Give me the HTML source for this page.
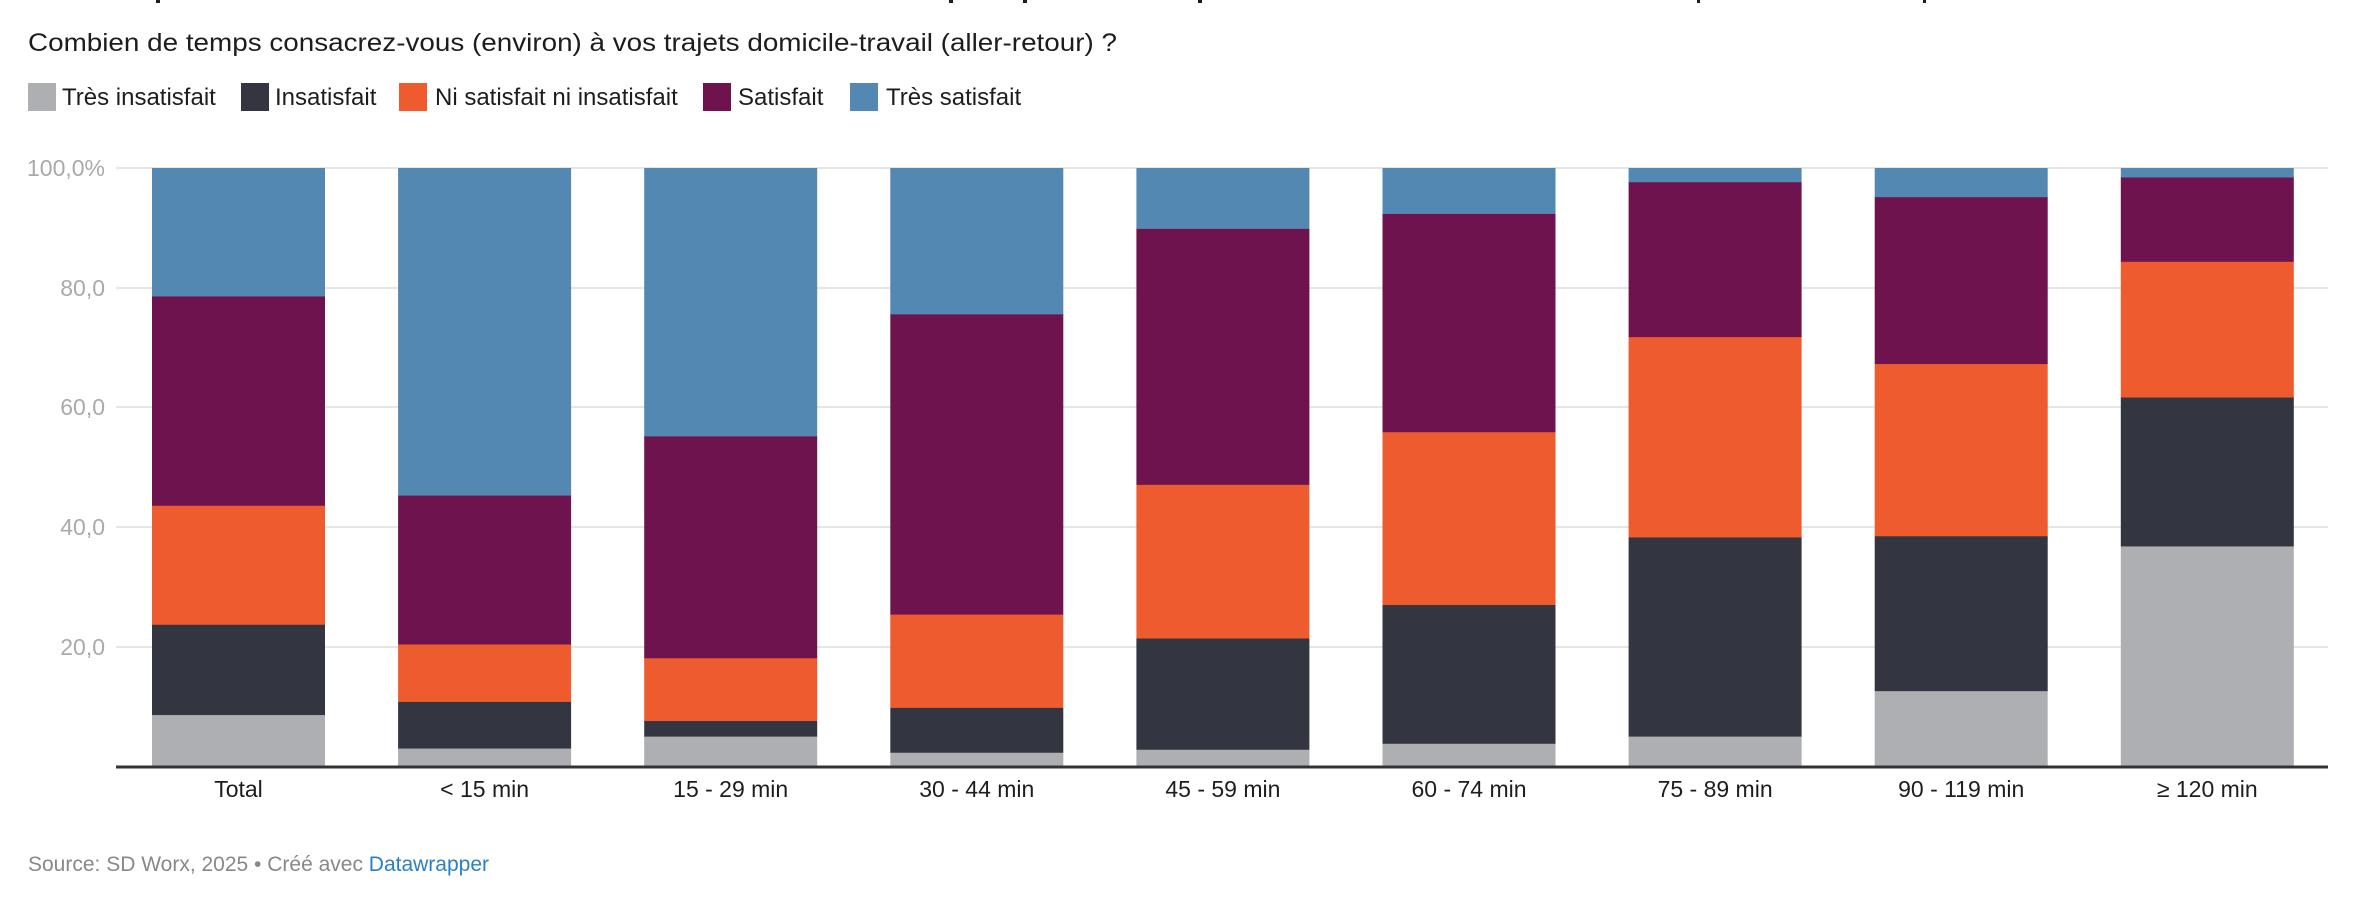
<!DOCTYPE html>
<html><head><meta charset="utf-8"><style>
body{margin:0;background:#fff;}
svg{display:block;font-family:"Liberation Sans",sans-serif;}
</style></head><body>
<svg width="2366" height="924" xmlns="http://www.w3.org/2000/svg">
<rect width="2366" height="924" fill="#fff"/>
<g fill="#1d1d1d">
<rect x="156" y="0" width="4" height="3"/><rect x="949" y="0" width="4" height="3"/><rect x="1023" y="0" width="4" height="3"/><rect x="1198" y="0" width="4" height="3"/><rect x="1697" y="0" width="3" height="3"/><rect x="1923" y="0" width="3" height="3"/>
</g>
<text x="28" y="51" font-size="25" fill="#1d1d1d" textLength="1089" lengthAdjust="spacingAndGlyphs">Combien de temps consacrez-vous (environ) à vos trajets domicile-travail (aller-retour) ?</text>
<g font-size="24" fill="#1d1d1d">
<rect x="28" y="83" width="28" height="28" fill="#aeafb2"/><text x="62" y="105">Très insatisfait</text>
<rect x="241" y="83" width="28" height="28" fill="#333640"/><text x="275" y="105">Insatisfait</text>
<rect x="399" y="83" width="28" height="28" fill="#ee5b2f"/><text x="435" y="105">Ni satisfait ni insatisfait</text>
<rect x="703" y="83" width="28" height="28" fill="#6e134d"/><text x="738" y="105">Satisfait</text>
<rect x="850" y="83" width="28" height="28" fill="#5388b2"/><text x="886" y="105">Très satisfait</text>
</g>
<g stroke="#e6e6e6" stroke-width="2">
<line x1="116" x2="2328" y1="168" y2="168"/><line x1="116" x2="2328" y1="288" y2="288"/><line x1="116" x2="2328" y1="407" y2="407"/><line x1="116" x2="2328" y1="527" y2="527"/><line x1="116" x2="2328" y1="647" y2="647"/>
</g>
<g font-size="23" fill="#aaaaaa" text-anchor="end">
<text x="105" y="176">100,0%</text><text x="105" y="296">80,0</text><text x="105" y="415">60,0</text><text x="105" y="535">40,0</text><text x="105" y="655">20,0</text>
</g>
<g id="bars"></g>
<line x1="116" x2="2328" y1="767" y2="767" stroke="#333" stroke-width="3"/>
<g font-size="23" fill="#1d1d1d" text-anchor="middle" id="xl"></g>
<text x="28" y="871" font-size="21" fill="#888">Source: SD Worx, 2025 • Créé avec <tspan fill="#2a7fc9">Datawrapper</tspan></text>
<script>
var d=[["Total",8.6,23.7,43.6,78.6],["< 15 min",3.0,10.8,20.4,45.3],["15 - 29 min",5.0,7.6,18.1,55.2],["30 - 44 min",2.3,9.8,25.4,75.6],["45 - 59 min",2.8,21.4,47.1,89.9],["60 - 74 min",3.8,27,55.9,92.4],["75 - 89 min",5,38.3,71.8,97.7],["90 - 119 min",12.6,38.5,67.3,95.2],["≥ 120 min",36.8,61.7,84.4,98.5]];
var c=["#aeafb2","#333640","#ee5b2f","#6e134d","#5388b2"],ns="http://www.w3.org/2000/svg",g=document.getElementById("bars"),xl=document.getElementById("xl");
function y(v){return 766-v*5.98;}
d.forEach(function(r,i){var x=152+i*246.1,vals=[0,r[1],r[2],r[3],r[4],100];
for(var k=0;k<5;k++){var e=document.createElementNS(ns,"rect");e.setAttribute("x",x);e.setAttribute("width",173);e.setAttribute("y",y(vals[k+1]));e.setAttribute("height",y(vals[k])-y(vals[k+1])+0.5);e.setAttribute("fill",c[k]);g.appendChild(e);}
var t=document.createElementNS(ns,"text");t.setAttribute("x",x+86.5);t.setAttribute("y",797);t.textContent=r[0];xl.appendChild(t);});
</script>
</svg>
</body></html>
